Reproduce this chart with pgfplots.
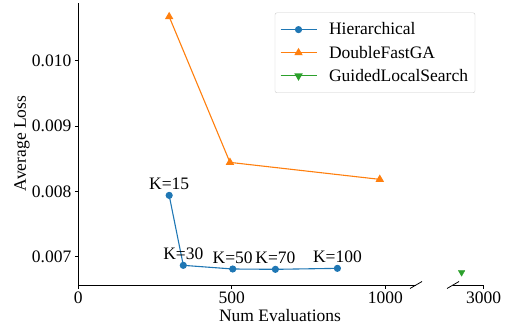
\documentclass[border=0pt]{standalone}
\usepackage{pgfplots}
\pgfplotsset{compat=1.18}
\usepackage{fontspec}
\setmainfont{Liberation Serif}
\definecolor{tabblue}{HTML}{1F77B4}
\definecolor{taborange}{HTML}{FF7F0E}
\definecolor{tabgreen}{HTML}{2CA02C}
\newcommand{\fs}{\fontsize{17.5}{21}\selectfont}
\begin{document}
\begin{tikzpicture}[x=1pt,y=1pt,font=\fs]
\useasboundingbox (0,0) rectangle (505,330);
\pgfplotsset{
  brk/.style={
    scale only axis, anchor=south west, height=281.7pt,
    ymin=0.006567, ymax=0.010879,
    axis x line*=bottom,
    tick align=outside,
    axis line style={line width=0.8pt, -},
    major tick style={line width=0.8pt, black},
    major tick length=3.5pt,
    /pgf/number format/assume math mode=true,
    /pgf/number format/1000 sep={},
    tick label style={font=\fs},
    clip=false,
  },
  legimg/.style={legend image code/.code={
    \draw[##1, mark=none] (0pt,0pt) -- (36pt,0pt);
    \draw[##1, only marks] plot coordinates {(18pt,0pt)};}}
}
\begin{axis}[brk, at={(78.3pt,45pt)}, width=337.7pt,
  xmin=0, xmax=1100, xtick={0,500,1000},
  axis y line*=left, ytick={0.007,0.008,0.009,0.010}, scaled y ticks=false,
  yticklabel style={/pgf/number format/.cd, fixed, fixed zerofill, precision=3},
  legend style={at={(1.1754,0.967)}, anchor=north east, draw=black!20, rounded corners=2pt,
    font=\fs, inner xsep=5pt, inner ysep=8pt, row sep=5.5pt, column sep=10pt,
    cells={anchor=west}},
  legend cell align=left,
  legimg,
]
\addplot[tabblue, line width=1.1pt, mark=*, mark size=3pt] coordinates
  {(296,0.007939) (342,0.006868) (503,0.006812) (642,0.006807) (844,0.006822)};
\addlegendentry{Hierarchical}
\addplot[taborange, line width=1.1pt, mark=triangle*, mark size=3.8pt] coordinates
  {(296,0.010674) (494,0.008444) (982,0.008184)};
\addlegendentry{DoubleFastGA}
\addlegendimage{tabgreen, line width=1.1pt, mark=triangle*, mark size=3.8pt, mark options={rotate=180}}
\addlegendentry{GuidedLocalSearch}
\node[anchor=base, yshift=5.5pt] at (axis cs:296,0.007939) {K=15};
\node[anchor=base, yshift=5.5pt] at (axis cs:342,0.006868) {K=30};
\node[anchor=base, yshift=5.5pt] at (axis cs:503,0.006812) {K=50};
\node[anchor=base, yshift=5.5pt] at (axis cs:642,0.006807) {K=70};
\node[anchor=base, yshift=5.5pt] at (axis cs:844,0.006822) {K=100};
\draw[line width=0.8pt] ([xshift=-6pt,yshift=-3.5pt]rel axis cs:1,0) -- ([xshift=6pt,yshift=3.5pt]rel axis cs:1,0);
\end{axis}
\begin{axis}[brk, at={(453pt,45pt)}, width=30.7pt,
  xmin=2900, xmax=3000, xtick={3000},
  axis y line=none,
]
\addplot[tabgreen, only marks, mark=triangle*, mark size=3.8pt, mark options={rotate=180}] coordinates
  {(2928,0.00676)};
\draw[line width=0.8pt] ([xshift=-6pt,yshift=-3.5pt]rel axis cs:0,0) -- ([xshift=6pt,yshift=3.5pt]rel axis cs:0,0);
\end{axis}
\node[rotate=90] at (22,186.5) {Average Loss};
\node at (280,14) {Num Evaluations};
\end{tikzpicture}
\end{document}
